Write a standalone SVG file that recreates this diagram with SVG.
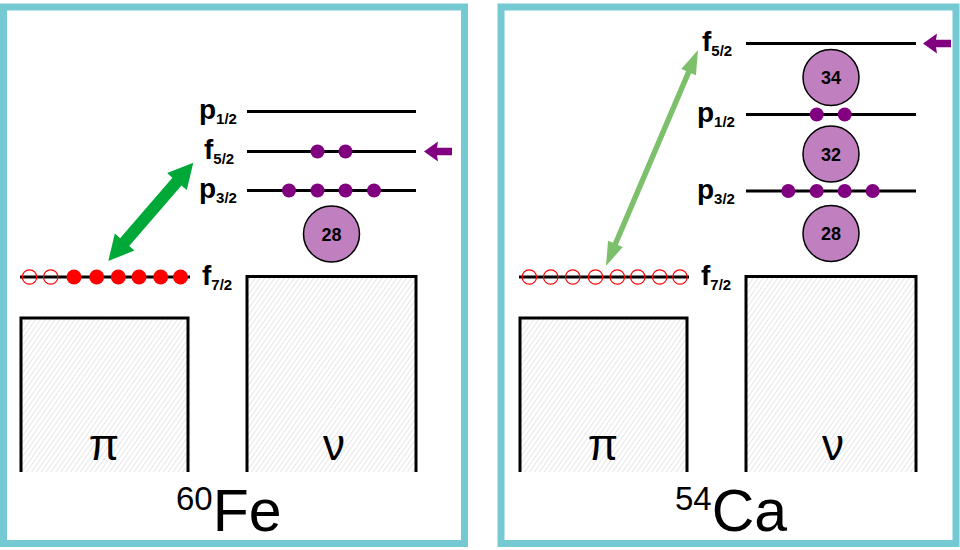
<svg xmlns="http://www.w3.org/2000/svg" width="960" height="550" viewBox="0 0 960 550">
<defs>
<pattern id="hatch" width="4" height="4" patternUnits="userSpaceOnUse" patternTransform="rotate(35)">
<line x1="0" y1="0" x2="0" y2="4" stroke="#cdcdcd" stroke-width="1"/>
</pattern>
<style>
.panel{fill:#fff;stroke:#74C9D2;stroke-width:7}
.box{fill:url(#hatch);stroke:#000;stroke-width:3}
.lvl{stroke:#000;stroke-width:3;fill:none}
.lbl{font-family:"Liberation Sans",Arial,sans-serif;font-weight:bold;font-size:28px;fill:#000}
.sub{font-size:15px}
.pd{fill:#800080}
.rf{fill:#ff0000}
.ro{fill:none;stroke:#ff0000;stroke-width:1.2}
.core{fill:#C080C0;stroke:#000;stroke-width:1.5}
.cn{font-family:"Liberation Sans",Arial,sans-serif;font-weight:bold;font-size:18px;text-anchor:middle;fill:#000}
.greek{font-family:"Liberation Sans",Arial,sans-serif;font-size:44px;text-anchor:middle;fill:#000}
.title{font-family:"Liberation Sans",Arial,sans-serif;fill:#000}
.parrow{fill:#800080}
</style>
</defs>

<g id="panel-fe60">
<rect class="panel" x="3.5" y="7" width="461" height="536.5"/>
<path class="box" d="M21,472 V318 H188 V472"/>
<path class="box" d="M247,472 V276.5 H416 V472"/>
<text class="greek" x="104" y="460">π</text>
<text class="greek" x="334" y="460">ν</text>
<text class="title" x="176" y="531"><tspan font-size="33" dy="-21">60</tspan><tspan font-size="59" dy="21">Fe</tspan></text>
</g>

<g id="fe60-levels">
<line class="lvl" x1="247" y1="111.5" x2="416" y2="111.5"/>
<line class="lvl" x1="247" y1="151.5" x2="416" y2="151.5"/>
<line class="lvl" x1="247" y1="190.5" x2="416" y2="190.5"/>
<line class="lvl" x1="20" y1="277" x2="190" y2="277"/>
<text class="lbl" x="199" y="119">p<tspan class="sub" dy="5">1/2</tspan></text>
<text class="lbl" x="204" y="159">f<tspan class="sub" dy="5">5/2</tspan></text>
<text class="lbl" x="199" y="198">p<tspan class="sub" dy="5">3/2</tspan></text>
<text class="lbl" x="202" y="284.5">f<tspan class="sub" dy="5">7/2</tspan></text>
</g>

<g id="fe60-particles">
<circle class="pd" cx="317.5" cy="151.5" r="7"/>
<circle class="pd" cx="345.5" cy="151.5" r="7"/>
<circle class="pd" cx="289" cy="190.5" r="7"/>
<circle class="pd" cx="317.5" cy="190.5" r="7"/>
<circle class="pd" cx="345.5" cy="190.5" r="7"/>
<circle class="pd" cx="374" cy="190.5" r="7"/>
<circle class="ro" cx="29.5" cy="277" r="7.2"/>
<circle class="ro" cx="50.7" cy="277" r="7.2"/>
<circle class="rf" cx="74" cy="277" r="7.5"/>
<circle class="rf" cx="96.7" cy="277" r="7.5"/>
<circle class="rf" cx="118.3" cy="277" r="7.5"/>
<circle class="rf" cx="139" cy="277" r="7.5"/>
<circle class="rf" cx="160.7" cy="277" r="7.5"/>
<circle class="rf" cx="180.5" cy="277" r="7.5"/>
</g>

<g id="fe60-core28">
<circle class="core" cx="331.5" cy="234" r="28"/>
<text class="cn" x="331.5" y="240.5">28</text>
</g>

<g id="panel-ca54">
<rect class="panel" x="501" y="7" width="455" height="536.5"/>
<path class="box" d="M520,472 V318 H687 V472"/>
<path class="box" d="M746,472 V276.5 H916 V472"/>
<text class="greek" x="603" y="460">π</text>
<text class="greek" x="833" y="460">ν</text>
<text class="title" x="675" y="531"><tspan font-size="33" dy="-21">54</tspan><tspan font-size="59" dy="21">Ca</tspan></text>
</g>

<g id="ca54-levels">
<line class="lvl" x1="746" y1="43.5" x2="916" y2="43.5"/>
<line class="lvl" x1="746" y1="114.5" x2="916" y2="114.5"/>
<line class="lvl" x1="746" y1="191" x2="916" y2="191"/>
<line class="lvl" x1="519" y1="277" x2="689" y2="277"/>
<text class="lbl" x="702" y="51">f<tspan class="sub" dy="5">5/2</tspan></text>
<text class="lbl" x="697" y="122">p<tspan class="sub" dy="5">1/2</tspan></text>
<text class="lbl" x="697" y="198.5">p<tspan class="sub" dy="5">3/2</tspan></text>
<text class="lbl" x="701" y="284.5">f<tspan class="sub" dy="5">7/2</tspan></text>
</g>

<g id="ca54-particles">
<circle class="pd" cx="816.7" cy="114.5" r="7"/>
<circle class="pd" cx="844.7" cy="114.5" r="7"/>
<circle class="pd" cx="788.3" cy="191" r="7"/>
<circle class="pd" cx="816.7" cy="191" r="7"/>
<circle class="pd" cx="844.7" cy="191" r="7"/>
<circle class="pd" cx="872.7" cy="191" r="7"/>
<circle class="ro" cx="529.3" cy="277" r="7.2"/>
<circle class="ro" cx="550.7" cy="277" r="7.2"/>
<circle class="ro" cx="572.7" cy="277" r="7.2"/>
<circle class="ro" cx="595.5" cy="277" r="7.2"/>
<circle class="ro" cx="617.3" cy="277" r="7.2"/>
<circle class="ro" cx="637.8" cy="277" r="7.2"/>
<circle class="ro" cx="659.7" cy="277" r="7.2"/>
<circle class="ro" cx="680" cy="277" r="7.2"/>
</g>

<g id="ca54-core34">
<circle class="core" cx="831" cy="77.5" r="28"/>
<text class="cn" x="831" y="84">34</text>
</g>
<g id="ca54-core32">
<circle class="core" cx="831" cy="154" r="28"/>
<text class="cn" x="831" y="160.5">32</text>
</g>
<g id="ca54-core28">
<circle class="core" cx="831" cy="233.5" r="28"/>
<text class="cn" x="831" y="240">28</text>
</g>

<g id="connectors">
<polygon fill="#00A838" points="193.3,162.7 186.78,190.11 181.49,185.53 129.19,246.01 134.48,250.59 108.3,261 114.82,233.59 120.11,238.17 172.41,177.69 167.12,173.11"/>
<polygon fill="#7DC06B" points="698,50 695.96,75.21 691.08,73.14 617.88,244.98 622.76,247.05 606,266 608.04,240.79 612.92,242.86 686.12,71.02 681.24,68.95"/>
<polygon class="parrow" points="424,151.5 438,141.5 437,147.7 452,147.7 452,155.3 437,155.3 438,161.5"/>
<polygon class="parrow" points="923,43.5 937,33.5 936,39.7 951,39.7 951,47.3 936,47.3 937,53.5"/>
</g>
</svg>
